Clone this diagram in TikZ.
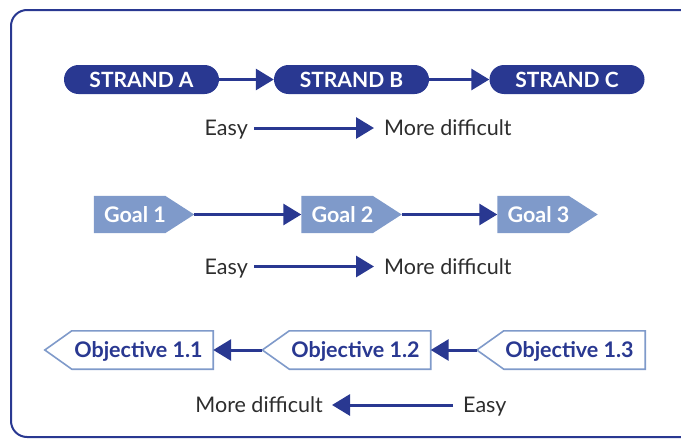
\documentclass[tikz,border=0pt]{standalone}
\usepackage{fontspec}
\setmainfont{Lato}
\usetikzlibrary{arrows.meta,backgrounds}
\definecolor{navy}{RGB}{41,56,145}
\definecolor{lightb}{RGB}{127,154,202}
\definecolor{txtgray}{RGB}{45,45,45}
\begin{document}
\begin{tikzpicture}[x=1pt,y=-1pt,
  strandbox/.style={fill=navy, rounded corners=14.5pt, minimum width=155pt, minimum height=29pt,
    inner sep=0pt, text=white, text height=15pt, text depth=0pt, font=\fontsize{21}{24}\selectfont\bfseries},
  goalbox/.style={minimum width=100pt, minimum height=37pt, inner sep=0pt, text=white,
    text height=15pt, text depth=0pt, font=\fontsize{21.5}{24}\selectfont\bfseries},
  objbox/.style={minimum width=168pt, minimum height=38pt, inner sep=0pt, text=navy,
    text height=15pt, text depth=0pt, font=\fontsize{21.5}{24}\selectfont\bfseries},
  lbl/.style={inner sep=0pt, text=txtgray, text height=15pt, text depth=0pt, font=\fontsize{21.5}{24}\selectfont},
  conn/.style={navy, line width=3pt, -{Triangle[length=18pt,width=21pt]}},
  goalfill/.style={fill=lightb},
  objdraw/.style={draw=lightb, fill=white, line width=1.6pt},
  frame/.style={draw=navy, line width=2pt, rounded corners=16pt}
]
\useasboundingbox (0,0) rectangle (681,439);
\draw[frame] (681,10) -- (11,10) -- (11,437) -- (681,437);

% strands
\node[strandbox] (sa) at (141.5,79.5) {STRAND A};
\node[strandbox] (sb) at (351.5,79.5) {STRAND B};
\node[strandbox] (sc) at (567,79.5) {STRAND C};
\draw[conn] (sa.east) -- (sb.west);
\draw[conn] (sb.east) -- (sc.west);

% easy row 1
\node[lbl, anchor=base east] (e1) at (248,135.5) {Easy};
\node[lbl, anchor=base west] (m1) at (384,135.5) {More difficult};
\draw[conn, shorten <=6pt, shorten >=10pt] (e1.east) -- (m1.west);

% goals
\node[goalbox] (g1) at (144,214.5) {Goal 1\rule{18pt}{0pt}};
\node[goalbox] (g2) at (351.5,214.5) {Goal 2\rule{18pt}{0pt}};
\node[goalbox] (g3) at (547.5,214.5) {Goal 3\rule{18pt}{0pt}};
\begin{scope}[on background layer]
\foreach \g in {g1,g2,g3}{
  \fill[goalfill] (\g.north west) -- ([xshift=-29pt]\g.north east) -- (\g.east)
     -- ([xshift=-29pt]\g.south east) -- (\g.south west) -- cycle;
}
\end{scope}
\draw[conn] (g1.east) -- (g2.west);
\draw[conn] (g2.east) -- (g3.west);

% easy row 2
\node[lbl, anchor=base east] (e2) at (248,274) {Easy};
\node[lbl, anchor=base west] (m2) at (384,274) {More difficult};
\draw[conn, shorten <=6pt, shorten >=10pt] (e2.east) -- (m2.west);

% objectives
\node[objbox] (o1) at (129,350) {\rule{19pt}{0pt}Objective 1.1};
\node[objbox] (o2) at (346.5,350) {\rule{18pt}{0pt}Objective 1.2};
\node[objbox] (o3) at (561,350) {\rule{17pt}{0pt}Objective 1.3};
\begin{scope}[on background layer]
\foreach \o in {o1,o2,o3}{
  \draw[objdraw] (\o.west) -- ([xshift=27pt]\o.north west) -- (\o.north east)
     -- (\o.south east) -- ([xshift=27pt]\o.south west) -- cycle;
}
\end{scope}
\draw[conn] (o3.west) -- (o2.east);
\draw[conn] (o2.west) -- (o1.east);

% easy row 3
\node[lbl, anchor=base east] (m3) at (323,412.5) {More difficult};
\node[lbl, anchor=base west] (e3) at (463,412.5) {Easy};
\draw[conn, shorten <=10pt, shorten >=9pt] (e3.west) -- (m3.east);
\end{tikzpicture}
\end{document}
